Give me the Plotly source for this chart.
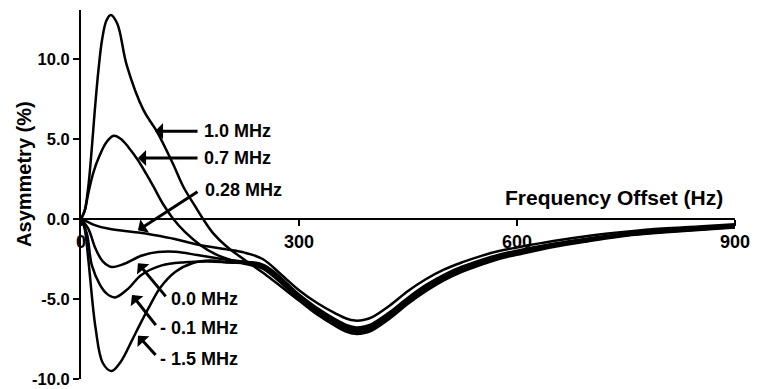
import plotly.graph_objects as go

# ---------------- data ----------------
x_tail = [250, 300, 325, 350, 365, 377, 390, 400, 425, 450, 475, 500, 525, 550, 575, 600, 650, 700, 750, 800, 850, 900]

x_p10 = [0, 5, 10, 15, 19, 24, 29, 35, 41, 50, 63, 86, 104, 127, 141, 157, 168, 182, 200, 228] + x_tail
y_p10 = [0, 0.5, 2.0, 4.5, 6.8, 9.3, 11.2, 12.4, 12.75, 12.2, 9.6, 6.8, 5.5, 3.4, 2.0, 0.8, 0, -0.9, -1.7, -2.65,
         -3.35, -5.1, -5.97, -6.68, -7.03, -7.18, -7.13, -6.98, -6.22, -5.3, -4.5, -3.82, -3.29, -2.87, -2.5, -2.24,
         -1.75, -1.38, -1.05, -0.85, -0.69, -0.53]

x_p07 = [0, 5, 10, 17, 25, 35, 45, 55, 65, 78, 90, 100, 112, 127, 143, 165, 185, 205, 225] + x_tail
y_p07 = [0, 0.5, 1.6, 2.9, 3.9, 4.8, 5.2, 5.0, 4.5, 3.7, 2.8, 2.0, 1.0, 0, -0.8, -1.65, -2.2, -2.55, -2.8,
         -3.1, -5.0, -5.85, -6.55, -6.9, -7.05, -7.0, -6.85, -6.1, -5.2, -4.4, -3.73, -3.21, -2.8, -2.44, -2.18,
         -1.7, -1.34, -1.02, -0.82, -0.66, -0.5]

x_p028 = [0, 10, 20, 37, 60, 79, 100, 129, 160, 200, 225, 250, 275] + x_tail[1:]
y_p028 = [0, -0.2, -0.4, -0.6, -0.75, -0.85, -1.0, -1.25, -1.6, -1.9, -2.1, -2.5, -3.45,
          -4.45, -5.25, -5.9, -6.22, -6.35, -6.3, -6.15, -5.4, -4.5, -3.75, -3.15, -2.7, -2.32, -2.0, -1.78,
          -1.38, -1.05, -0.8, -0.6, -0.47, -0.33]

x_p00 = [0, 10, 20, 30, 42, 60, 83, 106, 130, 160, 200] + x_tail
y_p00 = [0, -0.6, -1.85, -2.65, -3.0, -2.8, -2.3, -2.07, -2.05, -2.25, -2.55,
         -2.9, -4.8, -5.65, -6.35, -6.7, -6.85, -6.8, -6.65, -5.9, -5.0, -4.2, -3.55, -3.05, -2.65, -2.3, -2.05,
         -1.6, -1.25, -0.95, -0.75, -0.6, -0.45]

x_m01 = [0, 8, 15, 26, 35, 47, 65, 83, 111, 143, 175, 200] + x_tail
y_m01 = [0, -0.9, -2.9, -4.1, -4.65, -4.9, -4.35, -3.5, -2.9, -2.7, -2.65, -2.7,
         -2.85, -4.72, -5.57, -6.27, -6.62, -6.77, -6.72, -6.57, -5.82, -4.92, -4.12, -3.47, -2.97, -2.57, -2.23, -1.98,
         -1.55, -1.2, -0.91, -0.71, -0.57, -0.42]

x_m15 = [0, 5, 10, 20, 30, 42, 55, 70, 81, 95, 109, 130, 154, 178, 200] + x_tail
y_m15 = [0, -0.6, -2.5, -6.8, -9.0, -9.5, -8.9, -7.6, -6.6, -5.4, -4.3, -3.3, -2.75, -2.6, -2.7,
         -3.0, -4.9, -5.75, -6.45, -6.8, -6.95, -6.9, -6.75, -6.0, -5.1, -4.3, -3.64, -3.13, -2.73, -2.37, -2.12,
         -1.65, -1.3, -0.99, -0.79, -0.63, -0.48]

series_names = ["1.0 MHz", "0.7 MHz", "0.28 MHz", "0.0 MHz", "- 0.1 MHz", "- 1.5 MHz"]
series_x = [x_p10, x_p07, x_p028, x_p00, x_m01, x_m15]
series_y = [y_p10, y_p07, y_p028, y_p00, y_m01, y_m15]

x_ticks = [0, 300, 600, 900]
y_ticks = [-10, -5, 0, 5, 10]
x_title = "Frequency Offset (Hz)"
y_title = "Asymmetry (%)"

# ---------------- layout constants ----------------
X_RANGE = [0, 900]
Y_RANGE = [-10, 13.06]
FONT = "Liberation Sans, Arial, Helvetica, sans-serif"

# label annotations: (text, text-left-x, text-y, tip-x, tip-y, tail-x, tail-y)
labels = [
    ("1.0 MHz", 166.5, 5.49, 101.8, 5.49, 162.4, 5.49),
    ("0.7 MHz", 166.5, 3.81, 78.4, 3.81, 162.4, 3.81),
    ("0.28 MHz", 168.0, 1.83, 78.4, -0.71, 162.4, 1.77),
    ("0.0 MHz", 121.0, -4.99, 78.4, -2.76, 118.3, -4.93),
    ("- 0.1 MHz", 106.0, -6.79, 70.2, -4.75, 104.6, -6.73),
    ("- 1.5 MHz", 106.0, -8.72, 78.4, -7.29, 104.6, -8.59),
]

fig = go.Figure()
for name, xs, ys in zip(series_names, series_x, series_y):
    fig.add_trace(go.Scatter(
        x=xs, y=ys, mode="lines", name=name,
        line=dict(color="black", width=2.5, shape="spline", smoothing=1.0),
        showlegend=False, hoverinfo="skip",
    ))

annotations = []
for text, tx, ty, hx, hy, ax, ay in labels:
    annotations.append(dict(
        x=hx, y=hy, ax=ax, ay=ay, xref="x", yref="y", axref="x", ayref="y",
        text="", showarrow=True, arrowhead=1, arrowsize=0.9, arrowwidth=3,
        arrowcolor="black", standoff=0, startstandoff=0,
    ))
    annotations.append(dict(
        x=tx, y=ty, xref="x", yref="y", text=text, showarrow=False,
        xanchor="left", yanchor="middle",
        font=dict(family=FONT, size=18, color="black", weight="bold"),
    ))

annotations.append(dict(
    x=886, y=1.35, xref="x", yref="y", text=x_title, showarrow=False,
    xanchor="right", yanchor="middle",
    font=dict(family=FONT, size=21, color="black", weight="bold"),
))
annotations.append(dict(
    x=-0.087, y=0.556, xref="paper", yref="paper", text=y_title, showarrow=False,
    textangle=-90, xanchor="center", yanchor="middle",
    font=dict(family=FONT, size=20, color="black", weight="bold"),
))

zero_pos = (0 - Y_RANGE[0]) / (Y_RANGE[1] - Y_RANGE[0])

fig.update_layout(
    width=763, height=389,
    margin=dict(l=81, r=28, t=10, b=10, autoexpand=False),
    paper_bgcolor="white", plot_bgcolor="white",
    xaxis=dict(
        range=X_RANGE, tickvals=x_ticks, ticktext=[str(v) for v in x_ticks],
        anchor="free", position=zero_pos, automargin=False, ticklabeloverflow="allow",
        showline=True, linecolor="black", linewidth=2,
        ticks="outside", ticklen=6, tickwidth=2, tickcolor="black",
        showgrid=False, zeroline=False,
        tickfont=dict(family=FONT, size=18, color="black", weight="bold"),
    ),
    yaxis=dict(
        range=Y_RANGE, tickvals=y_ticks, ticktext=[f"{v:.1f}" for v in y_ticks],
        automargin=False, ticklabeloverflow="allow",
        showline=True, linecolor="black", linewidth=2,
        ticks="outside", ticklen=6, tickwidth=2, tickcolor="black",
        showgrid=False, zeroline=False,
        tickfont=dict(family=FONT, size=16.5, color="black", weight="bold"),
    ),
    annotations=annotations,
)

fig.write_html(
    "out.html",
    config={"displayModeBar": False},
    post_script="document.body.style.margin='0';document.body.style.overflow='hidden';",
)
